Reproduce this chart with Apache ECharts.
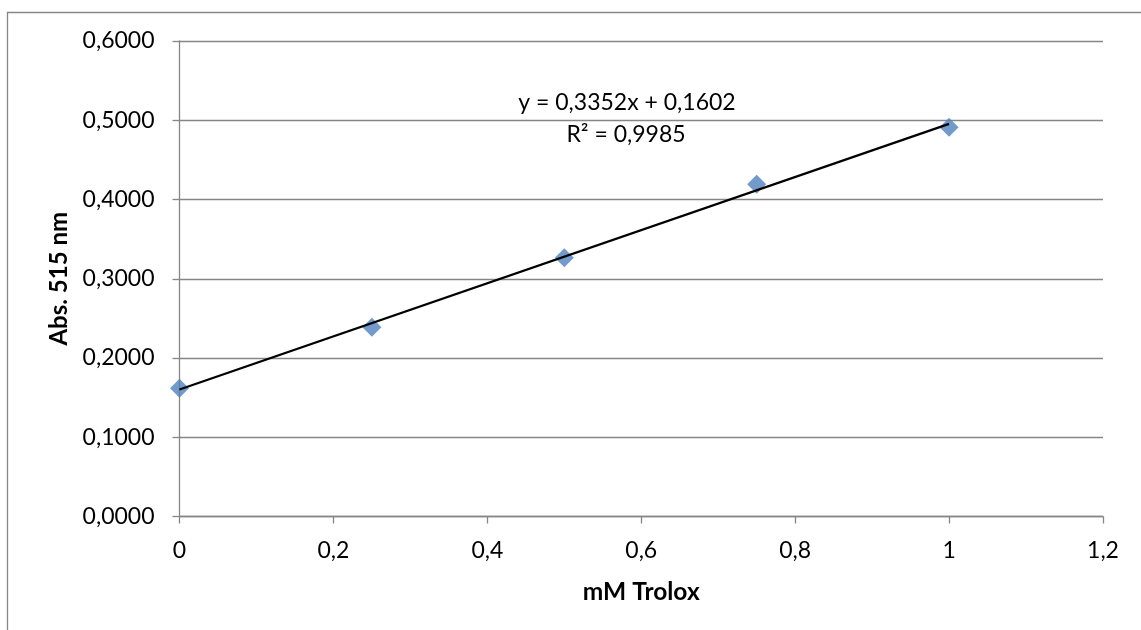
<!DOCTYPE html>
<html>
<head>
<meta charset="utf-8">
<script src="https://cdn.jsdelivr.net/npm/echarts@6/dist/echarts.min.js"></script>
<style>
html,body{margin:0;padding:0;background:#fff;}
#chart{width:1141px;height:630px;}
</style>
</head>
<body>
<div id="chart"></div>
<script>
// Data
var concentrations = [0, 0.25, 0.5, 0.75, 1];
var absorbance = [0.1618, 0.2387, 0.3266, 0.4192, 0.4911];
var trendX = [0, 1];
var trendY = [0.1602, 0.4954];
var equationText = 'y = 0,3352x + 0,1602';
var r2Text = 'R\u00B2 = 0,9985';
var xTitle = 'mM Trolox';
var yTitle = 'Abs. 515 nm';

var FONT = 'Lato';
var GRAY = '#868686';

var chart = echarts.init(document.getElementById('chart'), null, {renderer: 'canvas'});

function pairs(xs, ys) { return xs.map(function (x, i) { return [x, ys[i]]; }); }

chart.setOption({
  animation: false,
  backgroundColor: '#ffffff',
  textStyle: {fontFamily: FONT},
  grid: {left: 179.5, right: 38, top: 41, bottom: 113.5, containLabel: false},
  xAxis: {
    type: 'value', min: 0, max: 1.2, interval: 0.2,
    name: xTitle, nameLocation: 'middle', nameGap: 63,
    nameTextStyle: {fontFamily: FONT, fontSize: 24.5, fontWeight: 'bold', color: '#000'},
    axisLine: {show: true, lineStyle: {color: GRAY, width: 1.3}},
    axisTick: {show: true, inside: false, length: 7, lineStyle: {color: GRAY, width: 1.3}},
    axisLabel: {fontFamily: FONT, fontSize: 23, color: '#000', margin: 23,
      formatter: function (v) { return String(+v.toFixed(1)).replace('.', ','); }},
    splitLine: {show: false}
  },
  yAxis: {
    type: 'value', min: 0, max: 0.6, interval: 0.1,
    name: yTitle, nameLocation: 'middle', nameGap: 108, nameRotate: 90,
    nameTextStyle: {fontFamily: FONT, fontSize: 24, fontWeight: 'bold', color: '#000'},
    axisLine: {show: true, lineStyle: {color: GRAY, width: 1.3}},
    axisTick: {show: true, inside: false, length: 7, lineStyle: {color: GRAY, width: 1.3}},
    axisLabel: {fontFamily: FONT, fontSize: 23, color: '#000', margin: 25,
      formatter: function (v) { return v.toFixed(4).replace('.', ','); }},
    splitLine: {show: true, lineStyle: {color: GRAY, width: 1.3}}
  },
  series: [
    {
      type: 'scatter', data: pairs(concentrations, absorbance),
      symbol: 'diamond', symbolSize: 19,
      itemStyle: {color: '#4F81BD'}, z: 2
    },
    {
      type: 'line', data: pairs(trendX, trendY),
      showSymbol: false, symbol: 'none',
      lineStyle: {color: '#000', width: 2.2}, z: 3
    }
  ],
  graphic: [
    {type: 'rect', shape: {x: 7.5, y: 12.5, width: 1300, height: 800}, style: {fill: 'none', stroke: GRAY, lineWidth: 1.3}, silent: true, z: -1},
    {type: 'text', x: 627, y: 103, style: {text: equationText, font: '23px ' + FONT, fill: '#000', textAlign: 'center', textVerticalAlign: 'middle'}},
    {type: 'text', x: 626, y: 135, style: {text: r2Text, font: '23px ' + FONT, fill: '#000', textAlign: 'center', textVerticalAlign: 'middle'}}
  ]
});
</script>
</body>
</html>
